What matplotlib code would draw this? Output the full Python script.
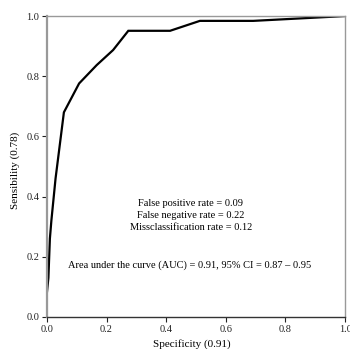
import matplotlib
matplotlib.use('Agg')
import matplotlib.pyplot as plt

# ROC curve points (1 - specificity, sensitivity)
fpr = [0.0, 0.0, 0.005, 0.01, 0.015, 0.029, 0.057, 0.108, 0.167, 0.222,
       0.273, 0.413, 0.513, 0.692, 1.0]
tpr = [0.0, 0.08, 0.13, 0.26, 0.32, 0.46, 0.68, 0.776, 0.837, 0.887,
       0.951, 0.951, 0.984, 0.984, 1.0]

ticks = [0.0, 0.2, 0.4, 0.6, 0.8, 1.0]
tick_labels = ['0.0', '0.2', '0.4', '0.6', '0.8', '1.0']

stats_lines = [
    'False positive rate = 0.09',
    'False negative rate = 0.22',
    'Missclassification rate = 0.12',
]
auc_text = 'Area under the curve (AUC) = 0.91, 95% CI = 0.87 \u2013 0.95'

plt.rcParams['font.family'] = ['Liberation Serif', 'DejaVu Serif']

fig = plt.figure(figsize=(3.5, 3.49), dpi=100)
ax = fig.add_axes([0.134, 0.092, 0.852, 0.862])

ax.plot(fpr, tpr, color='black', linewidth=1.6, solid_joinstyle='miter')

ax.set_xlim(0, 1)
ax.set_ylim(0, 1)
ax.set_xticks(ticks)
ax.set_xticklabels(tick_labels)
ax.set_yticks(ticks)
ax.set_yticklabels(tick_labels)
ax.tick_params(direction='out', length=3.5, width=0.8, labelsize=7.5, pad=2,
               colors='#222222')

for side in ['left', 'top', 'right']:
    ax.spines[side].set_color('#999999')
ax.spines['left'].set_linewidth(1.6)
ax.spines['top'].set_linewidth(1.0)
ax.spines['right'].set_linewidth(1.0)
ax.spines['bottom'].set_color('#333333')
ax.spines['bottom'].set_linewidth(1.0)

ax.text(0.483, 0.338, '\n'.join(stats_lines), ha='center', va='center',
        fontsize=7.5, linespacing=1.45)
ax.text(0.478, 0.173, auc_text, ha='center', va='center', fontsize=7.5)

ax.set_xlabel('Specificity (0.91)', fontsize=8)
ax.set_ylabel('Sensibility (0.78)', fontsize=8)
ax.xaxis.set_label_coords(0.487, -0.075)
ax.yaxis.set_label_coords(-0.09, 0.488)

fig.savefig('out.png', dpi=100, facecolor='white')
plt.close(fig)
